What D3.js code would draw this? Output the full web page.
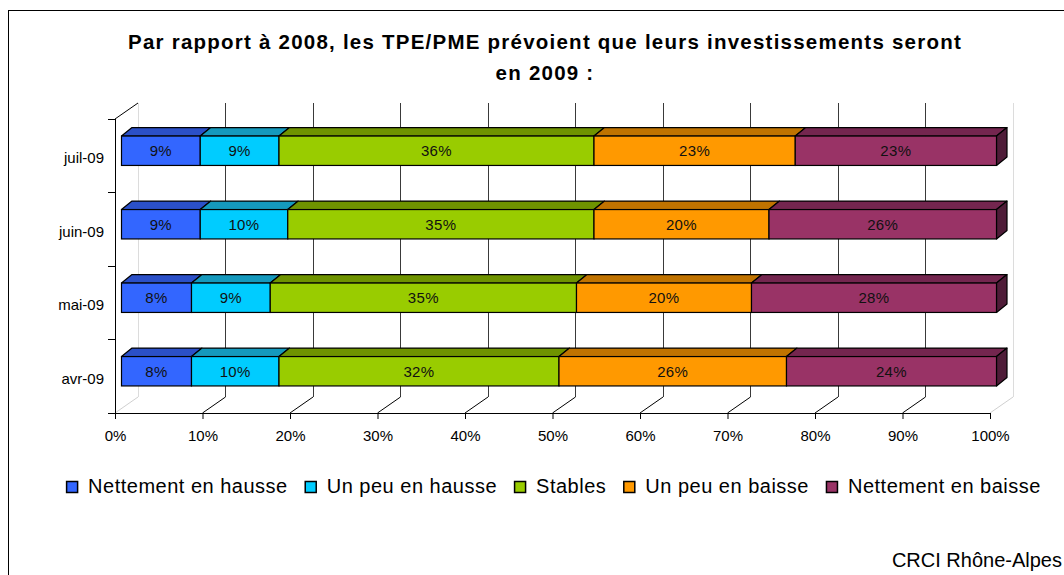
<!DOCTYPE html>
<html><head><meta charset="utf-8">
<script src="https://cdn.jsdelivr.net/npm/d3@7"></script>
<style>body{margin:0;background:#fff;overflow:hidden} text{font-family:"Liberation Sans",Arial,sans-serif;fill:#000}</style>
</head><body><svg id="c" width="1064" height="575"></svg>
<script>
// ---- data ----
const categories = ["juil-09", "juin-09", "mai-09", "avr-09"];
const seriesNames = ["Nettement en hausse", "Un peu en hausse", "Stables", "Un peu en baisse", "Nettement en baisse"];
const nettementHausse = [9, 9, 8, 8];
const unPeuHausse = [9, 10, 9, 10];
const stables = [36, 35, 35, 32];
const unPeuBaisse = [23, 20, 20, 26];
const nettementBaisse = [23, 26, 28, 24];
const xTickValues = [0, 0.1, 0.2, 0.3, 0.4, 0.5, 0.6, 0.7, 0.8, 0.9, 1];
const titleLines = ["Par rapport à 2008, les TPE/PME prévoient que leurs investissements seront", "en 2009 :"];
const sourceText = "CRCI Rhône-Alpes";

// ---- style ----
const frontColors = ["#3366FF", "#00CCFF", "#99CC00", "#FF9900", "#993366"];
const topColors = ["#2b50c8", "#1599bd", "#6f9300", "#c07300", "#74264f"];
const sideColor = "#4f1c38";

const seriesValues = [nettementHausse, unPeuHausse, stables, unPeuBaisse, nettementBaisse];
const rows = categories.map((c, i) => {
  const r = {cat: c};
  seriesNames.forEach((s, j) => r[s] = seriesValues[j][i]);
  return r;
});
const stack = d3.stack().keys(seriesNames).offset(d3.stackOffsetExpand);
const stacked = stack(rows);

const svg = d3.select("#c");

// frame
svg.append("rect").attr("x", 8.5).attr("y", 10.5).attr("width", 1100).attr("height", 620)
  .attr("fill", "#fff").attr("stroke", "#000").attr("stroke-width", 1);

const x = d3.scaleLinear().domain([0, 1]).range([115, 990]);
const y = d3.scaleBand().domain(categories).range([119, 413]).paddingInner(0.6).paddingOuter(0.3);
const yEdge = d3.scaleLinear().domain([0, categories.length]).range([119, 413]);
const D = {dx: 23, dy: -16};     // wall depth
const O = {dx: 6.5, dy: -5};     // bar front offset
const B = {dx: 10.5, dy: -8.5};  // bar depth

// back wall gridlines
const gTop = yEdge(0) + D.dy, gBot = yEdge(categories.length) + D.dy;
svg.append("g").selectAll("line").data(xTickValues).join("line")
  .attr("x1", d => x(d) + D.dx).attr("x2", d => x(d) + D.dx)
  .attr("y1", gTop).attr("y2", gBot)
  .attr("stroke", (d, i) => (i === 0 || i === xTickValues.length - 1) ? "#dcdcdc" : "#3a3a3a")
  .attr("stroke-width", 1).attr("shape-rendering", "crispEdges");

// floor diagonals
const floorY = yEdge(categories.length);
svg.append("g").selectAll("line").data(xTickValues).join("line")
  .attr("x1", d => x(d)).attr("y1", floorY)
  .attr("x2", d => x(d) + D.dx).attr("y2", floorY + D.dy)
  .attr("stroke", (d, i) => (i === 0 || i === xTickValues.length - 1) ? "#d0d0d0" : "#000")
  .attr("stroke-width", 1);

// y axis line, ticks and top diagonal
svg.append("line").attr("x1", x(0)).attr("x2", x(0)).attr("y1", yEdge(0)).attr("y2", floorY)
  .attr("stroke", "#000").attr("shape-rendering", "crispEdges");
svg.append("line").attr("x1", x(0)).attr("y1", yEdge(0)).attr("x2", x(0) + D.dx).attr("y2", yEdge(0) + D.dy)
  .attr("stroke", "#000");
svg.append("g").selectAll("line").data(d3.range(categories.length + 1)).join("line")
  .attr("x1", x(0) - 7).attr("x2", x(0)).attr("y1", d => yEdge(d)).attr("y2", d => yEdge(d))
  .attr("stroke", "#000").attr("shape-rendering", "crispEdges");

// bars
const bars = svg.append("g");
stacked.forEach((layer, si) => {
  layer.forEach((seg, ci) => {
    const cat = categories[ci];
    const x0 = x(seg[0]) + O.dx, x1 = x(seg[1]) + O.dx;
    const yt = y(cat) + O.dy, yb = yt + y.bandwidth();
    const g = bars.append("g");
    g.append("path")
      .attr("d", `M${x0},${yt}L${x1},${yt}L${x1 + B.dx},${yt + B.dy}L${x0 + B.dx},${yt + B.dy}Z`)
      .attr("fill", topColors[si]).attr("stroke", "#000").attr("stroke-width", 1.2).attr("stroke-linejoin", "round");
    if (si === stacked.length - 1) {
      g.append("path")
        .attr("d", `M${x1},${yt}L${x1 + B.dx},${yt + B.dy}L${x1 + B.dx},${yb + B.dy}L${x1},${yb}Z`)
        .attr("fill", sideColor).attr("stroke", "#000").attr("stroke-width", 1.2).attr("stroke-linejoin", "round");
    }
    g.append("rect").attr("x", x0).attr("y", yt).attr("width", x1 - x0).attr("height", y.bandwidth())
      .attr("fill", frontColors[si]).attr("stroke", "#000").attr("stroke-width", 1.2);
    g.append("text").attr("x", (x0 + x1) / 2).attr("y", yt + y.bandwidth() / 2).attr("dy", "0.36em")
      .attr("text-anchor", "middle").style("font-size", "15px").style("fill", "#111")
      .style("letter-spacing", "0.4px")
      .text(seriesValues[si][ci] + "%");
  });
});

// x axis
const xAxis = d3.axisBottom(x).tickValues(xTickValues).tickFormat(d3.format(".0%"))
  .tickSize(6).tickSizeOuter(0).tickPadding(11);
const ga = svg.append("g").attr("transform", `translate(0,${floorY})`).call(xAxis);
ga.select(".domain").attr("stroke", "#000");
ga.selectAll(".tick line").attr("stroke", "#000");
ga.selectAll("text").style("font-size", "15px").style("font-family", '"Liberation Sans",Arial,sans-serif').attr("fill", "#000");

// y labels
svg.append("g").selectAll("text").data(categories).join("text")
  .attr("x", x(0) - 11).attr("y", d => y(d) + y.bandwidth() / 2 + 2).attr("dy", "0.36em")
  .attr("text-anchor", "end").style("font-size", "15px").text(d => d);

// title (letter-spaced to match the reference's wide rendering)
const titleG = svg.append("g");
const tl = titleG.selectAll("text").data(titleLines).join("text")
  .attr("x", 545).attr("y", (d, i) => 49 + i * 31)
  .attr("text-anchor", "middle").style("font-size", "20.5px").style("font-weight", "bold").text(d => d);
const l1 = tl.nodes()[0];
const natural = l1.getComputedTextLength();
const ls = Math.max(0, (834 - natural) / titleLines[0].length);
tl.style("letter-spacing", ls + "px");

// legend
const leg = svg.append("g");
let lx = 0;
seriesNames.forEach((s, i) => {
  const it = leg.append("g").attr("transform", `translate(${lx},0)`);
  it.append("rect").attr("x", 0.5).attr("y", -11.5).attr("width", 11).attr("height", 11)
    .attr("fill", frontColors[i]).attr("stroke", "#000").attr("stroke-width", 1.5);
  const t = it.append("text").attr("x", 22).attr("y", 0).style("font-size", "20px")
    .style("letter-spacing", "0.5px").text(s);
  lx += 22 + t.node().getComputedTextLength() + 17;
});
const legW = lx - 17;
leg.attr("transform", `translate(${553.5 - legW / 2},493)`);

// source
svg.append("text").attr("x", 1062).attr("y", 567).attr("text-anchor", "end")
  .style("font-size", "20px").text(sourceText);
</script></body></html>
